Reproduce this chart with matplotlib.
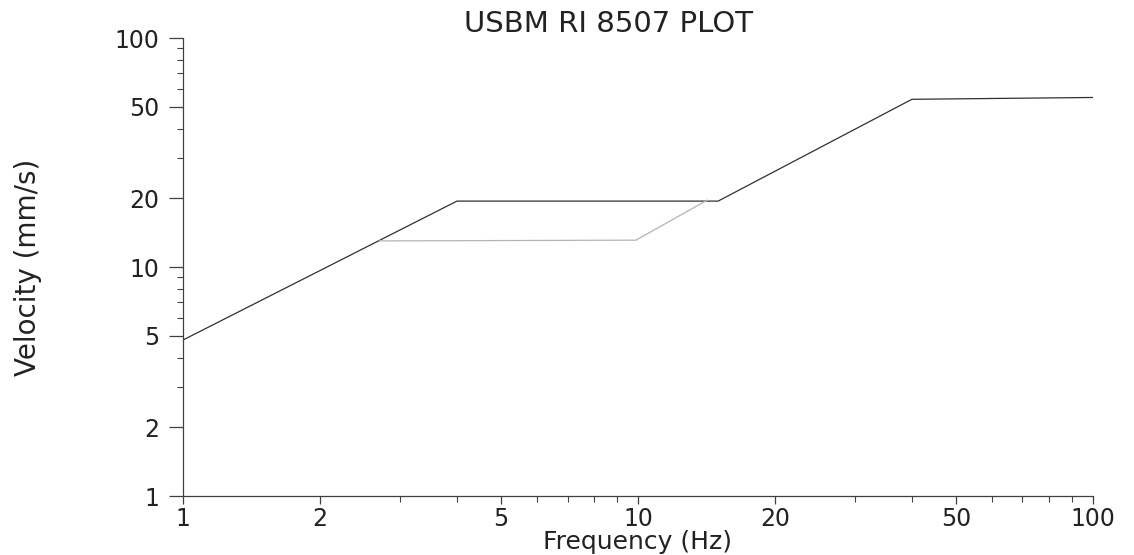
import matplotlib
matplotlib.use("Agg")
import matplotlib.pyplot as plt
from matplotlib.ticker import FixedLocator, LogLocator, NullFormatter

# USBM RI 8507 limit curves (frequency in Hz, velocity in mm/s)
limit_freq = [1, 4, 15, 40, 100]
limit_vel = [4.8, 19.4, 19.4, 54, 55]

plaster_freq = [2.7, 9.9, 14.2]
plaster_vel = [13.0, 13.1, 19.6]

ticks = [1, 2, 5, 10, 20, 50, 100]
tick_labels = ["1", "2", "5", "10", "20", "50", "100"]

plt.rcParams['font.family'] = ['DejaVu Sans']

fig = plt.figure(figsize=(11.34, 5.55), dpi=100)
ax = fig.add_axes([0.1614, 0.1063, 0.8024, 0.8252])

ax.plot(limit_freq, limit_vel, color="#303030", lw=0.9)
ax.plot(plaster_freq, plaster_vel, color="#b4b4b4", lw=0.9)

ax.set_xscale("log")
ax.set_yscale("log")
ax.set_xlim(1, 100)
ax.set_ylim(1, 100)

for axis in (ax.xaxis, ax.yaxis):
    axis.set_major_locator(FixedLocator(ticks))
    axis.set_minor_locator(LogLocator(base=10, subs=range(2, 10)))
    axis.set_minor_formatter(NullFormatter())
ax.set_xticklabels(tick_labels)
ax.set_yticklabels(tick_labels)

ax.spines["top"].set_visible(False)
ax.spines["right"].set_visible(False)
for s in ("left", "bottom"):
    ax.spines[s].set_color("#404040")
    ax.spines[s].set_linewidth(0.9)

ax.tick_params(axis="y", which="major", length=10, width=0.9, pad=7,
               labelsize=17, colors="#404040", labelcolor="#222222")
ax.tick_params(axis="y", which="minor", length=4, width=0.8, colors="#404040")
ax.tick_params(axis="x", which="major", length=6, width=0.9, pad=2,
               labelsize=17, colors="#404040", labelcolor="#222222")
ax.tick_params(axis="x", which="minor", length=4, width=0.8, colors="#404040")

ax.set_xlabel("Frequency (Hz)", fontsize=18, color="#222222", labelpad=-1)
ax.set_ylabel("Velocity (mm/s)", fontsize=20, color="#222222", labelpad=52)
ax.set_title("USBM RI 8507 PLOT", fontsize=21, color="#222222", pad=3, x=0.468)

fig.savefig("out.png", dpi=100)
